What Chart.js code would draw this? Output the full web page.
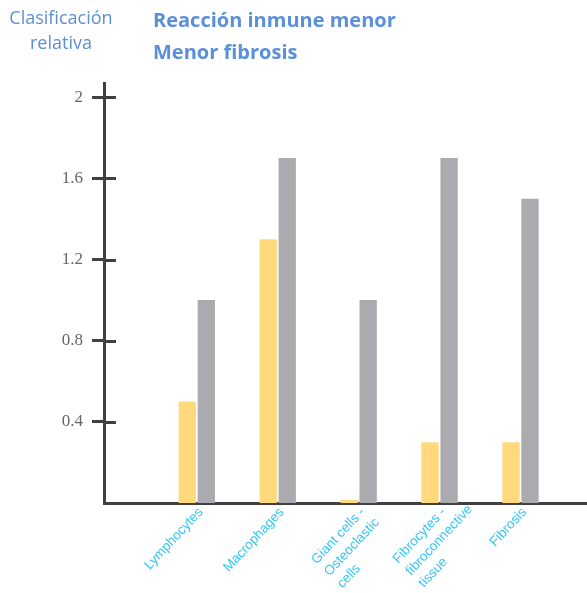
<!DOCTYPE html>
<html>
<head>
<meta charset="utf-8">
<script src="https://cdn.jsdelivr.net/npm/chart.js@4"></script>
<style>
  html, body { margin: 0; padding: 0; background: #fff; }
  #wrap { position: relative; width: 587px; height: 593px; }
  #c { position: absolute; left: 0; top: 0; }
  .ytitle { position: absolute; left: 0; top: 5px; width: 122px; text-align: center;
    font-family: "Open Sans", sans-serif; font-size: 18px; line-height: 25px; color: #5B8FD6; }
  .title { position: absolute; left: 153px; top: 4px;
    font-family: "Open Sans", sans-serif; font-weight: bold; font-size: 20px; line-height: 32px; color: #5A8FD9; }
</style>
</head>
<body>
<div id="wrap">
  <canvas id="c" width="587" height="593"></canvas>
  <div class="ytitle">Clasificación<br>relativa</div>
  <div class="title">Reacción inmune menor<br>Menor fibrosis</div>
</div>
<script>
const categories = [
  ["Lymphocytes"],
  ["Macrophages"],
  ["Giant cells -", "Osteoclastic", "cells"],
  ["Fibrocytes -", "fibroconnective", "tissue"],
  ["Fibrosis"]
];
const yellowValues = [0.5, 1.3, 0.015, 0.3, 0.3];
const grayValues = [1.0, 1.7, 1.0, 1.7, 1.5];
const yTickValues = [0.4, 0.8, 1.2, 1.6, 2.0];

const axisColor = '#404040';

const crossTicks = {
  id: 'crossTicks',
  afterDatasetsDraw(chart) {
    const y = chart.scales.y;
    const ctx = chart.ctx;
    const left = chart.chartArea.left;
    ctx.save();
    ctx.strokeStyle = axisColor;
    ctx.lineWidth = 3;
    y.ticks.forEach(t => {
      const py = Math.round(y.getPixelForValue(t.value)) + 0.5;
      ctx.beginPath();
      ctx.moveTo(left, py);
      ctx.lineTo(left + 12, py);
      ctx.stroke();
    });
    ctx.restore();
  }
};

// Multi-line rotated labels: keep first line anchored at the tick, align other lines to its start
const leftAlignLabels = {
  id: 'leftAlignLabels',
  beforeDraw(chart) {
    const x = chart.scales.x;
    const ctx = chart.ctx;
    const items = x.getLabelItems(chart.chartArea);
    items.forEach(it => {
      if (it._fixed) return;
      const first = Array.isArray(it.label) ? it.label[0] : it.label;
      ctx.save();
      ctx.font = it.font.string;
      const w = ctx.measureText(first).width;
      ctx.restore();
      const r = it.options.rotation;
      const t = it.options.translation;
      it.options.translation = [t[0] - w * Math.cos(r) + 4, t[1] - w * Math.sin(r) - 2];
      it.options.textAlign = 'left';
      it._fixed = true;
    });
  }
};

new Chart(document.getElementById('c'), {
  type: 'bar',
  data: {
    datasets: [
      { data: yellowValues.map((v, i) => ({ x: i + 1, y: v })), backgroundColor: '#FFD97C' },
      { data: grayValues.map((v, i) => ({ x: i + 1, y: v })), backgroundColor: '#ABABAF' }
    ]
  },
  options: {
    responsive: false,
    animation: false,
    devicePixelRatio: 1,
    layout: { padding: { top: 83, left: 0, right: 0, bottom: 0 } },
    categoryPercentage: 0.47,
    barPercentage: 0.91,
    plugins: { legend: { display: false }, tooltip: { enabled: false } },
    scales: {
      x: {
        type: 'linear',
        offset: false,
        min: -0.147,
        max: 5.822,
        afterBuildTicks: s => { s.ticks = categories.map((c, i) => ({ value: i + 1 })); },
        afterFit: s => { s.height = 90; },
        grid: { display: false, drawTicks: false },
        border: { display: true, color: axisColor, width: 3 },
        ticks: {
          autoSkip: false,
          minRotation: 47,
          maxRotation: 47,
          padding: 3,
          color: '#33C6F7',
          font: { family: '"Liberation Sans", Arial, sans-serif', size: 13.5, lineHeight: 1.3 },
          callback: v => categories[Math.round(v) - 1] || ''
        }
      },
      y: {
        min: 0,
        max: 2.07,
        afterBuildTicks: s => { s.ticks = yTickValues.map(v => ({ value: v })); },
        afterFit: s => { s.width = 104; },
        grid: { display: true, drawOnChartArea: false, drawTicks: true, tickLength: 12, tickColor: axisColor, tickWidth: 3 },
        border: { display: true, color: axisColor, width: 3 },
        ticks: {
          padding: 9,
          color: '#666666',
          font: { family: '"Liberation Serif", "Times New Roman", serif', size: 17 },
          callback: v => String(Math.round(v * 10) / 10)
        }
      }
    }
  },
  plugins: [crossTicks, leftAlignLabels]
});
</script>
</body>
</html>
